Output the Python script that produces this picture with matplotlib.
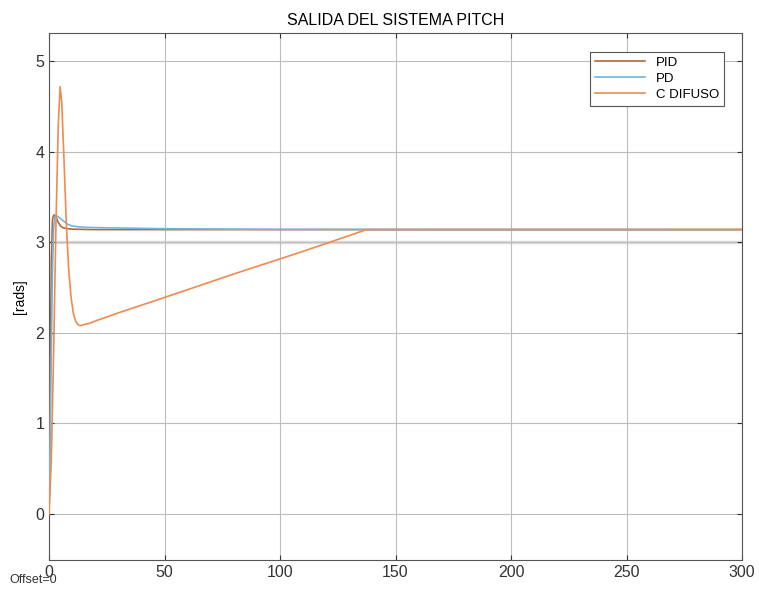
import matplotlib.pyplot as plt

plt.rcParams['font.family'] = ['Liberation Sans', 'DejaVu Sans']

# tiempo [s] y salida [rads]
t_pid = [0, 0.5, 1, 1.5, 2, 2.5, 3, 4, 5, 6, 8, 10, 15, 20, 300]
y_pid = [0, 1.5, 2.8, 3.25, 3.3, 3.3, 3.28, 3.22, 3.18, 3.16, 3.15, 3.145, 3.142, 3.14, 3.14]

t_pd = [0, 0.5, 1, 1.5, 2, 2.5, 3, 4, 6, 8, 10, 13, 16, 25, 50, 100, 300]
y_pd = [0, 0.8, 1.8, 2.7, 3.15, 3.28, 3.3, 3.28, 3.24, 3.2, 3.18, 3.17, 3.165, 3.16, 3.15, 3.142, 3.14]

t_fz = [0, 1, 2, 3, 4, 4.8, 5.5, 6.5, 7.5, 8.5, 9.5, 10.5, 11.5, 12.5, 13.5, 15, 17,
        20, 30, 50, 80, 110, 137.5, 150, 200, 300]
y_fz = [0, 0.6, 1.8, 3.2, 4.3, 4.72, 4.55, 3.9, 3.2, 2.7, 2.4, 2.22, 2.13, 2.09, 2.08, 2.09, 2.1,
        2.13, 2.22, 2.39, 2.65, 2.9, 3.14, 3.14, 3.14, 3.14]

x_ticks = [0, 50, 100, 150, 200, 250, 300]
y_ticks = [0, 1, 2, 3, 4, 5]

fig = plt.figure(figsize=(7.59, 5.92), dpi=100)
ax = fig.add_axes([0.0646, 0.054, 0.913, 0.890])

ax.axhline(3, color='#dcdcdc', lw=2.5, zorder=1)
ax.plot(t_pid, y_pid, color='#B5653F', lw=1.2, label='PID', zorder=3)
ax.plot(t_pd, y_pd, color='#6DB8E0', lw=1.2, label='PD', zorder=3)
ax.plot(t_fz, y_fz, color='#F08A50', lw=1.2, label='C DIFUSO', zorder=4)

ax.set_xlim(0, 300)
ax.set_ylim(-0.51, 5.31)
ax.set_xticks(x_ticks)
ax.set_yticks(y_ticks)
ax.grid(True, color='#bdbdbd', lw=0.8)
ax.tick_params(direction='in', top=True, right=True, labelsize=11.5, colors='#333333')
for s in ax.spines.values():
    s.set_color('#555555')

ax.set_title('SALIDA DEL SISTEMA PITCH', fontsize=11.5, pad=6)
ax.set_ylabel('[rads]', fontsize=10, labelpad=6)
fig.text(0.012, 0.016, 'Offset=0', fontsize=9, color='#333333')

leg = ax.legend(loc='upper right', bbox_to_anchor=(0.983, 0.977), fontsize=9.5,
                fancybox=False, framealpha=1, edgecolor='#555555',
                handlelength=3.8, borderpad=0.35, labelspacing=0.3)
leg.get_frame().set_linewidth(0.8)

plt.savefig('out.png')
